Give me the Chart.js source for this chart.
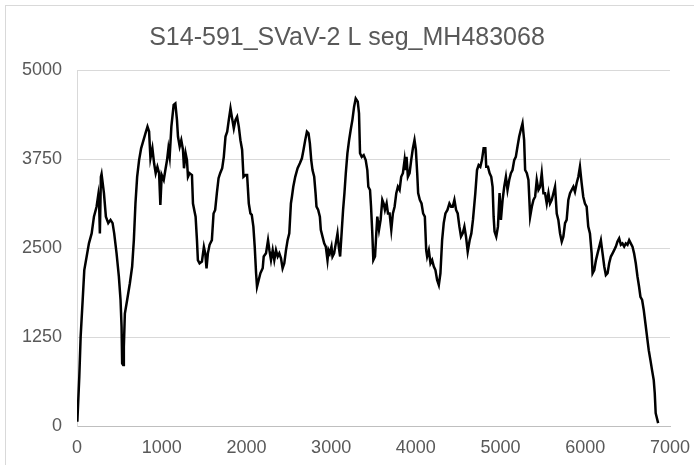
<!DOCTYPE html>
<html>
<head>
<meta charset="utf-8">
<script src="https://cdn.jsdelivr.net/npm/chart.js@4.4.1/dist/chart.umd.min.js"></script>
<style>
  html, body { margin: 0; padding: 0; background: #ffffff; }
  #wrap { position: relative; width: 694px; height: 465px; }
  #frame { position: absolute; left: 5px; top: 5px; width: 700px; height: 470px;
           border-left: 1px solid #d9d9d9; border-top: 1px solid #d9d9d9; pointer-events: none; }
  canvas { position: absolute; left: 0; top: 0; }
</style>
</head>
<body>
<div id="wrap">
  <canvas id="c" width="694" height="465"></canvas>
  <div id="frame"></div>
</div>
<script>
const chartTitle = "S14-591_SVaV-2 L seg_MH483068";
const xTickValues = [0, 1000, 2000, 3000, 4000, 5000, 6000, 7000];
const yTickValues = [0, 1250, 2500, 3750, 5000];

const positions = [
  4, 27, 43, 67, 86, 114, 141, 173, 200, 231, 251, 262, 270, 282, 290, 318, 341, 369, 396, 420,
  439, 467, 494, 514, 526, 533, 545, 553, 565, 592, 624, 651, 671, 690, 710, 733, 757, 780, 808, 832,
  851, 867, 890, 910, 929, 949, 969, 984, 1000, 1024, 1043, 1063, 1079, 1094, 1114, 1141, 1161, 1180, 1192, 1212,
  1231, 1251, 1263, 1282, 1298, 1310, 1329, 1357, 1369, 1388, 1400, 1416, 1427, 1447, 1475, 1498, 1514, 1529, 1545, 1565,
  1592, 1612, 1631, 1651, 1671, 1690, 1714, 1733, 1753, 1773, 1792, 1812, 1831, 1851, 1871, 1890, 1910, 1929, 1949, 1965,
  1988, 2008, 2028, 2047, 2063, 2082, 2098, 2114, 2125, 2145, 2165, 2192, 2204, 2231, 2255, 2271, 2290, 2310, 2329, 2349,
  2369, 2388, 2408, 2427, 2447, 2467, 2486, 2506, 2525, 2537, 2553, 2576, 2604, 2631, 2655, 2674, 2694, 2714, 2733, 2749,
  2765, 2780, 2800, 2816, 2827, 2847, 2867, 2878, 2898, 2918, 2937, 2957, 2969, 2984, 3004, 3016, 3035, 3055, 3075, 3090,
  3106, 3126, 3141, 3157, 3173, 3192, 3212, 3231, 3251, 3271, 3290, 3314, 3329, 3341, 3361, 3384, 3408, 3427, 3439, 3459,
  3471, 3486, 3498, 3518, 3533, 3545, 3565, 3584, 3604, 3620, 3635, 3655, 3671, 3690, 3710, 3729, 3749, 3769, 3788, 3808,
  3827, 3847, 3867, 3878, 3890, 3906, 3926, 3945, 3965, 3984, 4000, 4016, 4027, 4047, 4067, 4086, 4106, 4122, 4133, 4153,
  4173, 4192, 4212, 4231, 4251, 4271, 4290, 4310, 4329, 4349, 4373, 4396, 4416, 4435, 4455, 4475, 4494, 4514, 4533, 4553,
  4573, 4592, 4612, 4635, 4655, 4674, 4702, 4722, 4741, 4761, 4780, 4800, 4820, 4831, 4851, 4871, 4890, 4906, 4918, 4929,
  4949, 4969, 4988, 5004, 5024, 5043, 5063, 5082, 5102, 5122, 5141, 5161, 5180, 5200, 5220, 5239, 5259, 5278, 5290, 5310,
  5329, 5349, 5369, 5388, 5408, 5427, 5447, 5467, 5486, 5506, 5525, 5545, 5565, 5584, 5604, 5624, 5643, 5663, 5682, 5702,
  5722, 5741, 5761, 5780, 5800, 5820, 5839, 5859, 5878, 5898, 5918, 5937, 5957, 5976, 5996, 6016, 6035, 6055, 6075, 6086,
  6106, 6126, 6145, 6165, 6184, 6204, 6224, 6243, 6263, 6282, 6302, 6322, 6341, 6361, 6380, 6400, 6420, 6439, 6459, 6478,
  6498, 6518, 6537, 6557, 6576, 6596, 6616, 6635, 6651, 6671, 6690, 6710, 6729, 6749, 6769, 6788, 6808, 6820, 6831, 6860
];

const coverage = [
  60, 690, 1255, 1770, 2190, 2380, 2565, 2705, 2940, 3080, 3245, 3080, 2705, 3500, 3540, 3270, 2940, 2850, 2895, 2850,
  2705, 2425, 2100, 1770, 1395, 880, 857, 1115, 1580, 1770, 2005, 2240, 2610, 3125, 3500, 3735, 3900, 3995, 4110, 4205,
  4135, 3760, 3900, 3690, 3550, 3640, 3550, 3105, 3525, 3455, 3595, 3735, 3900, 3780, 4205, 4510, 4530, 4300, 4065, 3925,
  4015, 3880, 3620, 3830, 3735, 3500, 3550, 3525, 3125, 3010, 2940, 2610, 2330, 2285, 2310, 2515, 2425, 2215, 2425, 2545,
  2610, 2985, 3035, 3270, 3480, 3550, 3620, 3780, 4065, 4135, 4300, 4460, 4320, 4180, 4300, 4345, 4205, 4015, 3880, 3500,
  3525, 3525, 3125, 2985, 2965, 2800, 2515, 2145, 1955, 2050, 2145, 2215, 2380, 2425, 2610, 2470, 2330, 2470, 2330, 2470,
  2380, 2425, 2355, 2215, 2285, 2470, 2610, 2705, 3125, 3220, 3360, 3500, 3620, 3690, 3760, 3880, 4015, 4135, 4110, 3970,
  3735, 3595, 3500, 3270, 3080, 3035, 2940, 2755, 2660, 2565, 2520, 2330, 2470, 2425, 2520, 2380, 2425, 2565, 2705, 2520,
  2380, 2755, 3035, 3270, 3550, 3830, 4015, 4160, 4300, 4485, 4600, 4555, 4390, 3830, 3780, 3805, 3735, 3595, 3360, 3315,
  3080, 2705, 2330, 2380, 2705, 2940, 2755, 2895, 3175, 3125, 3035, 3125, 2985, 2985, 2755, 2985, 3080, 3270, 3360, 3315,
  3500, 3550, 3735, 3595, 3780, 3500, 3550, 3735, 3900, 4015, 3880, 3550, 3270, 3175, 3125, 2985, 2940, 2470, 2380, 2470,
  2285, 2330, 2240, 2190, 2050, 1980, 2145, 2610, 2850, 2985, 3035, 3125, 3080, 3080, 3175, 3035, 2985, 2800, 2660, 2705,
  2800, 2660, 2450, 2610, 2705, 2895, 3270, 3595, 3665, 3640, 3735, 3900, 3900, 3640, 3640, 3550, 3500, 3360, 2940, 2730,
  2660, 2800, 3270, 2895, 3175, 3360, 3500, 3315, 3455, 3550, 3595, 3735, 3780, 3925, 4065, 4160, 4250, 4015, 3595, 3550,
  3455, 2940, 3080, 3175, 3220, 3455, 3315, 3360, 3550, 3270, 3270, 3125, 3270, 3125, 3175, 3270, 3360, 2985, 2895, 2705,
  2590, 2660, 2850, 2895, 3175, 3270, 3315, 3360, 3290, 3410, 3500, 3640, 3410, 3220, 3125, 3080, 2800, 2705, 2425, 2145,
  2190, 2330, 2425, 2520, 2610, 2425, 2240, 2120, 2145, 2285, 2380, 2425, 2470, 2520, 2590, 2635, 2545, 2565, 2520, 2565,
  2545, 2610, 2565, 2520, 2425, 2285, 2100, 1955, 1815, 1770, 1630, 1440, 1255, 1065, 925, 785, 645, 460, 180, 40
];

const points = positions.map((p, i) => ({ x: p, y: coverage[i] }));
const fontFamily = '"Liberation Sans", Arial, Helvetica, sans-serif';
const textColor = '#595959';
const plain = (v) => String(v);

new Chart(document.getElementById('c'), {
  type: 'line',
  data: {
    datasets: [{
      data: points,
      borderColor: '#000000',
      borderWidth: 2.5,
      pointRadius: 0,
      pointHoverRadius: 0,
      tension: 0,
      fill: false,
      yAxisID: 'y'
    }]
  },
  options: {
    responsive: false,
    animation: false,
    events: [],
    layout: { padding: 0 },
    plugins: {
      legend: { display: false },
      tooltip: { enabled: false },
      title: {
        display: true,
        text: chartTitle,
        color: textColor,
        font: { family: fontFamily, size: 25, weight: 'normal', lineHeight: 1.2 },
        padding: { top: 23, bottom: 17 }
      }
    },
    scales: {
      x: {
        type: 'linear',
        min: 0,
        max: 7000,
        afterBuildTicks: (s) => { s.ticks = xTickValues.map(v => ({ value: v })); },
        afterFit: (s) => { s.height = 39; },
        grid: { display: true, drawOnChartArea: false, drawTicks: true, tickLength: 11, color: 'rgba(0,0,0,0)' },
        border: { display: true, color: '#bfbfbf', width: 1 },
        ticks: { color: textColor, font: { family: fontFamily, size: 18 }, padding: 0, maxRotation: 0, callback: plain }
      },
      y: {
        type: 'linear',
        position: 'left',
        min: 0,
        max: 5000,
        afterBuildTicks: (s) => { s.ticks = yTickValues.map(v => ({ value: v })); },
        afterFit: (s) => { s.width = 77; },
        grid: {
          drawTicks: false,
          color: (ctx) => (ctx.tick && ctx.tick.value === 0) ? '#bfbfbf' : '#d9d9d9',
          lineWidth: 1
        },
        border: { display: true, color: '#d9d9d9', width: 1 },
        ticks: { color: textColor, font: { family: fontFamily, size: 18 }, padding: 15, callback: plain }
      },
      yRightSpace: {
        type: 'linear',
        position: 'right',
        min: 0,
        max: 5000,
        afterFit: (s) => { s.width = 24; },
        grid: { display: false, drawTicks: false },
        border: { display: false },
        ticks: { display: false }
      }
    }
  }
});
</script>
</body>
</html>
